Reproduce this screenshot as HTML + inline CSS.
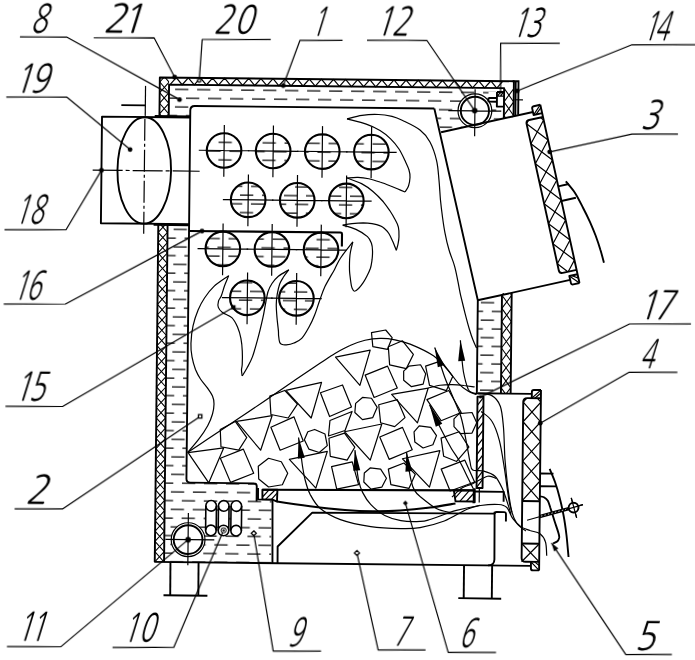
<!DOCTYPE html>
<html><head><meta charset="utf-8"><title>Fig</title>
<style>
html,body{margin:0;padding:0;background:#fff}
svg{display:block}
.k{fill:none;stroke:#000;stroke-width:1.9;stroke-linejoin:round;stroke-linecap:butt}

.kk{fill:none;stroke:#000;stroke-width:2.1;stroke-linejoin:round}
.t{fill:none;stroke:#000;stroke-width:1.2;stroke-linejoin:round}
.h{fill:none;stroke:#000;stroke-width:1.05;stroke-linejoin:round}
.tw{fill:#fff;stroke:#000;stroke-width:1.3}
.a{fill:#000;stroke:none}
.n{font-family:"NanumGothic","Liberation Sans",sans-serif;font-size:39.5px;fill:#000;stroke:none}
#water-fill *{fill:url(#water);stroke:none}
#whites *{fill:#fff;stroke:none}
</style></head><body>
<svg width="695" height="660" viewBox="0 0 695 660">
<defs>
<pattern id="water" patternUnits="userSpaceOnUse" width="22" height="17.5" patternTransform="translate(194.6 89.15)">
<path d="M0 2 H13.3 M11 10.75 H22 M0 10.75 H2.3" stroke="#000" stroke-width="1.15" fill="none"/>
</pattern>
</defs>
<rect width="695" height="660" fill="#fff"/>
<g transform="rotate(0.6 347.5 330)">
<g id="water-fill">
<polygon points="166.5,86.5 501.6,86.5 501.6,115.8 439,130.2 432,107.6 188,107.6 188,119.2 166.5,119.2"/>
<polygon points="166.5,225.8 188,225.8 188,484.3 258.4,484.3 258.4,500.5 273.5,500.7 273.5,563.9 166.5,563.9"/>
<polygon points="477.5,298.9 501.6,293.5 501.6,391.8 477.5,391.8"/>
<circle cx="222.2" cy="151.8" r="17.3"/>
<circle cx="271.3" cy="151.8" r="17.3"/>
<circle cx="320.4" cy="151.8" r="17.3"/>
<circle cx="369.5" cy="151.8" r="17.3"/>
<circle cx="246.8" cy="200.9" r="17.3"/>
<circle cx="295.9" cy="200.9" r="17.3"/>
<circle cx="345" cy="200.9" r="17.3"/>
<circle cx="222" cy="250.2" r="17.3"/>
<circle cx="271.1" cy="250.2" r="17.3"/>
<circle cx="320.2" cy="250.2" r="17.3"/>
<circle cx="247" cy="298.9" r="17.3"/>
<circle cx="296.1" cy="298.9" r="17.3"/>
</g>
<g id="whites">
<circle cx="472.6" cy="109.5" r="16.9"/>
<circle cx="190.3" cy="541.3" r="16.9"/>
<rect x="207.7" y="501.9" width="10.6" height="35.2" rx="5.3"/>
<rect x="220.3" y="501.9" width="10.6" height="35.2" rx="5.3"/>
<rect x="232.9" y="501.9" width="10.6" height="35.2" rx="5.3"/>
<rect x="486" y="90.4" width="15.5" height="14.6"/>
</g>
<g id="casing">
<path class="k" d="M157.2 117.7 V79.5 H511.3 V114.5"/>
<path class="k" d="M157.2 226.8 V563.9"/>
<path class="k" d="M166.5 117.7 V86.5 H501.6 V116.5"/>
<path class="k" d="M166.5 226.8 V563.9"/>
<path class="k" d="M156.7 563.9 H533.4"/>
<clipPath id="hc1"><rect x="157.2" y="79.5" width="9.3" height="38.2"/></clipPath><g clip-path="url(#hc1)"><polyline class="h" points="157.2,73.4 166.5,84 157.2,94.6 166.5,105.2 157.2,115.8 166.5,126.4"/><polyline class="h" points="166.5,73.4 157.2,84 166.5,94.6 157.2,105.2 166.5,115.8 157.2,126.4"/></g>
<clipPath id="hc2"><rect x="157.2" y="226.8" width="9.3" height="337.1"/></clipPath><g clip-path="url(#hc2)"><polyline class="h" points="157.2,224 166.5,234.3 157.2,244.6 166.5,254.9 157.2,265.2 166.5,275.5 157.2,285.8 166.5,296.1 157.2,306.4 166.5,316.8 157.2,327.1 166.5,337.4 157.2,347.7 166.5,358 157.2,368.3 166.5,378.6 157.2,388.9 166.5,399.2 157.2,409.5 166.5,419.8 157.2,430.1 166.5,440.4 157.2,450.7 166.5,461 157.2,471.3 166.5,481.6 157.2,491.9 166.5,502.2 157.2,512.5 166.5,522.8 157.2,533.1 166.5,543.4 157.2,553.6 166.5,563.9"/><polyline class="h" points="166.5,224 157.2,234.3 166.5,244.6 157.2,254.9 166.5,265.2 157.2,275.5 166.5,285.8 157.2,296.1 166.5,306.4 157.2,316.8 166.5,327.1 157.2,337.4 166.5,347.7 157.2,358 166.5,368.3 157.2,378.6 166.5,388.9 157.2,399.2 166.5,409.5 157.2,419.8 166.5,430.1 157.2,440.4 166.5,450.7 157.2,461 166.5,471.3 157.2,481.6 166.5,491.9 157.2,502.2 166.5,512.5 157.2,522.8 166.5,533.1 157.2,543.4 166.5,553.6 157.2,563.9"/></g>
<polyline class="t" points="167.5,86.5 173.6,79.5 179.6,86.5 185.7,79.5 191.7,86.5 197.8,79.5 203.8,86.5 209.9,79.5 215.9,86.5 222,79.5 228,86.5 234.1,79.5 240.1,86.5 246.2,79.5 252.2,86.5 258.3,79.5 264.3,86.5 270.4,79.5 276.4,86.5 282.5,79.5 288.5,86.5 294.6,79.5 300.6,86.5 306.7,79.5 312.7,86.5 318.8,79.5 324.8,86.5 330.9,79.5 336.9,86.5 343,79.5 349,86.5 355.1,79.5 361.1,86.5 367.2,79.5 373.2,86.5 379.3,79.5 385.3,86.5 391.4,79.5 397.4,86.5 403.5,79.5 409.5,86.5 415.6,79.5 421.6,86.5 427.7,79.5 433.7,86.5 439.8,79.5 445.8,86.5 451.9,79.5 457.9,86.5 464,79.5 470,86.5 476.1,79.5 482.1,86.5 488.2,79.5 494.2,86.5 500.3,79.5"/>
<clipPath id="hc3"><rect x="501.6" y="86.5" width="9.7" height="29"/></clipPath><g clip-path="url(#hc3)"><polyline class="h" points="501.6,73.2 511.3,86.8 501.6,100.2 511.3,113.8 501.6,127.2"/><polyline class="h" points="511.3,73.2 501.6,86.8 511.3,100.2 501.6,113.8 511.3,127.2"/></g>
<path class="k" d="M501.6 293 V391.8 M511.3 291 V391.8"/>
<clipPath id="hc4"><rect x="501.6" y="291.5" width="9.7" height="100.3"/></clipPath><g clip-path="url(#hc4)"><polyline class="h" points="501.6,280.4 511.3,293.6 501.6,306.8 511.3,320 501.6,333.2 511.3,346.4 501.6,359.6 511.3,372.8 501.6,386 511.3,399.2"/><polyline class="h" points="511.3,280.4 501.6,293.6 511.3,306.8 501.6,320 511.3,333.2 501.6,346.4 511.3,359.6 501.6,372.8 511.3,386 501.6,399.2"/></g>
<path class="k" d="M513.1 79.5 V113.8 M515.9 79.5 V113 M510 79.5 H516.8"/>
</g>
<g id="pipe">
<path class="k" d="M188 119.2 H99.8 V225.8 H188"/>
<path class="kk" d="M152.5 118.2 H188 M152.5 226.8 H188"/>
<ellipse class="k" cx="142.6" cy="172.6" rx="26.8" ry="53.2"/>
<path class="t" d="M143 88 V118" />
<path class="t" stroke-dasharray="22 3 3 3" d="M142.7 121 V236" />
<path class="k" d="M119 107.5 H143"/>
<path class="t" stroke-dasharray="30 3 4 3" d="M91 172.8 H198"/>
</g>
<g id="firebox">
<path class="k" d="M432 107.6 H192.5 Q188 107.6 188 112.1 V119.2 M188 119.2 V480.3 Q188 484.3 192 484.3 H255.4 Q258.4 484.3 258.4 487.3 V502.5"/>
<path class="k" d="M432 107.6 L477.5 298.9 V391.8"/>
<path class="kk" d="M188 232.6 H339.5 Q341 232.6 341 234 V246.5"/>
</g>
<g id="door3" transform="translate(530.2 110.2) rotate(-13)">
<path class="k" d="M0.5 0 H-93.6 M-94 172 H0.8"/>
<path class="k" d="M9.2 -5.5 V177 M9.2 7 H-5 Q-8.3 7 -8.3 10.5 V160 Q-8.3 163.5 -5 163.5 H9.2"/>
<path class="k" d="M9.2 -5.5 H2.5 Q0.5 -5.5 0.5 -3.5 V3 H9.2 M9.2 177 H2.8 Q0.8 177 0.8 175 V168 H9.2"/>
<path class="t" d="M9.2 -5.5 L0.5 3 M3 3 L9.2 -2.5 M0.8 168 L9.2 177 M9.2 172 L3 168"/>
<clipPath id="cd3"><rect x="-8.3" y="7" width="17.5" height="156.5" rx="3"/></clipPath>
<g clip-path="url(#cd3)"><polyline class="t" points="-8.3,-31 9.2,-10.5 -8.3,10 9.2,30.5 -8.3,51 9.2,71.5 -8.3,92 9.2,112.5 -8.3,133 9.2,153.5 -8.3,174"/><polyline class="t" points="9.2,-31 -8.3,-10.5 9.2,10 -8.3,30.5 9.2,51 -8.3,71.5 9.2,92 -8.3,112.5 9.2,133 -8.3,153.5 9.2,174"/></g>
<path class="k" d="M9.2 78 H20 M9.2 93 H24"/>
</g>
<path class="k" d="M564.2 179.1 C565.8 181 570.6 186.3 573.6 190.6 C576.5 195 579.2 200.5 581.7 205.3 C584.3 210.1 586.7 214.9 588.9 219.5 C591 224.1 592.8 228.3 594.6 232.9 C596.4 237.6 598.2 242.8 599.6 247.4 C601.1 251.9 602.6 257.9 603.2 260"/>
<g id="door4">
<path class="k" d="M478.5 391.9 H532.5"/>
<path class="k" d="M541.6 388 V568.4 M541.6 396.2 H528 Q524 396.2 524 400 V556 Q524 559.9 528 559.9 H541.6"/>
<path class="k" d="M541.6 388 H534.5 Q532.5 388 532.5 390 V396.2 M541.6 568.4 H535.4 Q533.4 568.4 533.4 566.4 V559.9"/>
<path class="t" d="M541.6 388 L532.5 396.2 M535.5 396.2 L541.6 391 M533.4 559.9 L541.6 568.4 M541.6 563.5 L537 559.9"/>
<path class="k" d="M524 499.2 H541.6 M524 541.7 H541.6"/>
<clipPath id="cd4"><rect x="524" y="396.2" width="17.6" height="103"/></clipPath>
<g clip-path="url(#cd4)"><polyline class="t" points="524,360.8 541.6,380.5 524,400.2 541.6,419.9 524,439.6 541.6,459.3 524,479 541.6,498.7 524,518.4"/><polyline class="t" points="541.6,360.8 524,380.5 541.6,400.2 524,419.9 541.6,439.6 524,459.3 541.6,479 524,498.7 541.6,518.4"/></g>
<path class="t" d="M524 541.7 L541.6 559.9 M541.6 541.7 L524 559.9"/>
<path class="k" d="M541.6 471.5 H555 M541.6 484.2 H558"/>
<path class="k" d="M551.1 466.7 C552 468.9 554.9 475.1 556.6 479.8 C558.3 484.5 559.8 489.3 561.2 494.8 C562.7 500.3 564.2 506.4 565.4 512.7 C566.7 519 567.7 525.7 568.6 532.7 C569.5 539.7 570.5 551 570.9 554.7"/>
<path class="k" d="M541.2 494.3 C542 494.4 544.4 494.5 545.7 495.2 C547.1 496 548.5 497 549.6 498.7 C550.6 500.4 551 502 552.1 505.4 C553.3 508.7 555.1 514.7 556.5 518.8 C557.9 523 559.6 527.6 560.4 530.3 C561.2 533 561.5 533.7 561.4 535.2 C561.2 536.6 560.7 538 559.7 539 C558.7 540 556.1 540.9 555.3 541.2"/>
<polyline class="t" points="529,518.4 584.8,502.1"/>
<polyline class="t" points="573,495.6 578.6,515.4"/>
<polyline points="541.4,514.6 570.8,506.3" style="fill:none;stroke:#000;stroke-width:3.6"/>
<polyline points="542.9,514.1 569.9,506.5" style="fill:none;stroke:#fff;stroke-width:0.8;stroke-dasharray:1.4 2.2"/>
<circle class="k" style="fill:#fff" cx="575.4" cy="505.2" r="4.9"/>
<polyline class="t" points="567.9,507.3 584.8,502.1"/>
<polyline class="t" points="573,495.6 578.6,515.4"/>
</g>
<g id="door17">
<rect class="k" x="478.2" y="395.3" width="6" height="91.3"/>
<path class="t" d="M478.2 404 L484.2 396 M478.2 412.2 L484.2 404.2 M478.2 420.4 L484.2 412.4 M478.2 428.6 L484.2 420.6 M478.2 436.8 L484.2 428.8 M478.2 445 L484.2 437 M478.2 453.2 L484.2 445.2 M478.2 461.4 L484.2 453.4 M478.2 469.6 L484.2 461.6 M478.2 477.8 L484.2 469.8 M478.2 486 L484.2 478 "/>
</g>
<g id="grate">
<polyline class="k" points="259.7,488.9 259.8,500.3 274.3,500.4 274.9,564"/>
<polyline class="kk" points="264.1,490.6 475.4,489"/>
<polygon class="k" points="264.1,490.6 279.1,490.5 278.8,502.3 274.3,500.4 264.2,500.3"/>
<path class="t" d="M264.7,497.4 L270.7,490.7 M267.3,500.2 L276.7,490.7 M273.3,500.2 L279,493.7"/>
<polygon class="k" points="455.5,489.1 475.4,489 475.5,500.1 457.3,500.1"/>
<path class="t" d="M456.8,496.9 L463.7,489.1 M461.8,500 L471.2,489 M468.3,500 L475.3,492.2"/>
<path class="kk" d="M278.8 502.3 C284.3 503.1 300.5 505.4 311.8 506.7 C323.2 508 336.4 509.3 346.9 510 C357.4 510.8 365.7 511.1 374.9 511.1 C384.1 511.1 392.4 510.8 401.9 510 C411.4 509.3 422.6 508 431.9 506.7 C441.1 505.4 453.1 503.1 457.3 502.4"/>
<polyline class="k" points="476.4,487 476.5,500.9 474.3,500.9"/>
<polyline class="k" points="476.4,490.2 505.4,490.2 505.4,500"/>
<polyline class="t" points="481,486.9 481,501.2"/>
<polyline class="k" points="280,563.9 279.9,547.2 314.2,513 496.5,512.1"/>
<path class="k" d="M496.5,510.2 L496.8,557.9 Q496.8,563.7 490.5,563.9"/>
<path class="k" d="M496.5,512.4 L496.5,512.4 Q496.6,510.4 498.6,510.4 L505.9,510.5 Q507.9,510.4 507.9,512.5 L507.9,519.8"/>
</g>
<g id="legs">
<polyline class="k" points="172.9,563.8 173,597.1"/>
<polyline class="k" points="201,563.8 201.1,597.1"/>
<polyline class="k" points="166.3,597.1 210.2,597.2"/>
<polyline class="k" points="466.5,564.1 466.5,597.1"/>
<polyline class="k" points="494.6,564.1 494.6,597.1"/>
<polyline class="k" points="461.1,597 504,597.1"/>
</g>
<g id="tubes">
<circle class="kk" cx="222.2" cy="151.8" r="17.3"/>
<path class="t" d="M196.9 151.8 H247.5 M222.2 126.4 V178.1"/>
<circle class="kk" cx="271.3" cy="151.8" r="17.3"/>
<path class="t" d="M246 151.8 H296.6 M271.3 126.4 V178.1"/>
<circle class="kk" cx="320.4" cy="151.8" r="17.3"/>
<path class="t" d="M295.1 151.8 H345.7 M320.4 126.4 V178.1"/>
<circle class="kk" cx="369.5" cy="151.8" r="17.3"/>
<path class="t" d="M344.2 151.8 H394.8 M369.5 126.4 V178.1"/>
<circle class="kk" cx="246.8" cy="200.9" r="17.3"/>
<path class="t" d="M221.5 200.9 H272.1 M246.8 175.6 V227.2"/>
<circle class="kk" cx="295.9" cy="200.9" r="17.3"/>
<path class="t" d="M270.6 200.9 H321.2 M295.9 175.6 V227.2"/>
<circle class="kk" cx="345" cy="200.9" r="17.3"/>
<path class="t" d="M319.7 200.9 H370.3 M345 175.6 V227.2"/>
<circle class="kk" cx="222" cy="250.2" r="17.3"/>
<path class="t" d="M196.7 250.2 H247.3 M222 224.9 V276.5"/>
<circle class="kk" cx="271.1" cy="250.2" r="17.3"/>
<path class="t" d="M245.8 250.2 H296.4 M271.1 224.9 V276.5"/>
<circle class="kk" cx="320.2" cy="250.2" r="17.3"/>
<path class="t" d="M294.9 250.2 H345.5 M320.2 224.9 V276.5"/>
<circle class="kk" cx="247" cy="298.9" r="17.3"/>
<path class="t" d="M221.7 298.9 H272.3 M247 273.6 V325.2"/>
<circle class="kk" cx="296.1" cy="298.9" r="17.3"/>
<path class="t" d="M270.8 298.9 H321.4 M296.1 273.6 V325.2"/>
</g>
<g id="c12">
<circle class="k" cx="472.6" cy="109.5" r="14.1"/><circle class="t" cx="472.6" cy="109.5" r="16.9"/>
<path class="t" d="M472.6 88 V135 M446 109.5 H499"/>
</g>
<g id="c11">
<circle class="k" cx="190.3" cy="541.3" r="14.4"/><circle class="t" cx="190.3" cy="541.3" r="16.9"/>
<path class="t" d="M190.3 514.6 V567 M167.6 541.3 H216.5"/>
</g>
<g id="p13">
<path class="k" d="M494.5 90.4 H501.5 M494.5 90.4 V105 H501.5 M486 96.4 H494.5 M486 100.2 H494.5 M486 96.4 V100.2"/>
<path class="t" d="M494.5 94.5 H501.5 M495 94.5 L498 90.6 M498 94.5 L501 90.6"/>
<path class="t" d="M512 98 H520.5"/>
</g>
<g id="heaters">
<path class="k" style="stroke-width:1.6" d="M207.7 507.2 V531.8 M218.3 507.2 V531.8"/>
<circle class="k" style="stroke-width:1.6" cx="213" cy="507.2" r="5.3"/><circle class="k" style="stroke-width:1.6" cx="213" cy="531.8" r="5.3"/>
<path class="k" style="stroke-width:1.6" d="M220.3 507.2 V531.8 M230.9 507.2 V531.8"/>
<circle class="k" style="stroke-width:1.6" cx="225.6" cy="507.2" r="5.3"/><circle class="k" style="stroke-width:1.6" cx="225.6" cy="531.8" r="5.3"/>
<path class="k" style="stroke-width:1.6" d="M232.9 507.2 V531.8 M243.5 507.2 V531.8"/>
<circle class="k" style="stroke-width:1.6" cx="238.2" cy="507.2" r="5.3"/><circle class="k" style="stroke-width:1.6" cx="238.2" cy="531.8" r="5.3"/>
</g>
<g id="flames">
<path class="t" d="M344.8 118.9 C347.3 118.3 354.5 115.9 359.8 115.2 C365 114.4 371.2 114 376.2 114.2 C381.2 114.3 385.7 115.1 389.8 116 C393.8 117 395.8 117.8 400.5 120 C405.2 122.2 413.3 125.7 417.9 129.3 C422.5 132.8 425.2 136.1 428 141.1 C430.8 146.2 433.3 153.4 434.8 159.7 C436.4 166 436.7 172.5 437.4 179.1 C438.1 185.6 438.5 192.9 439.1 199 C439.8 205.2 440.5 210.5 441.3 216 C442.1 221.5 442.8 226.5 444 232 C445.1 237.5 446.5 243.5 448.2 248.9 C449.8 254.4 452.3 259.4 453.8 264.7 C455.4 270 456.4 275.8 457.5 280.8 C458.6 285.9 459.2 289.7 460.4 294.8 C461.7 300 463.3 306.1 464.8 311.8 C466.3 317.4 468.2 324.2 469.6 328.7 C471 333.2 471.9 335.7 473.1 338.7 C474.3 341.7 476.1 345.3 476.7 346.6"/>
<path class="t" d="M344.8 118.9 C348 119.8 358.6 122.1 364.1 124 C369.7 125.9 373.8 127.8 377.9 130.2 C382 132.6 385.4 135.3 388.6 138.4 C391.8 141.4 394.7 144.9 397.1 148.5 C399.5 152.1 401.5 156.5 403.2 160 C404.9 163.5 406.5 166.6 407.3 169.4 C408.2 172.2 408.5 174.2 408.4 176.9 C408.3 179.5 407.8 182.9 407 185.4 C406.2 187.8 404.1 190.4 403.6 191.4"/>
<path class="t" d="M403.6 191.4 C402.4 190.9 398.9 189.5 396.5 188.5 C394.1 187.5 392.1 186.7 389.1 185.6 C386.1 184.4 382.1 182.8 378.4 181.7 C374.8 180.5 370.9 179.2 367.2 178.5 C363.5 177.8 360 177.4 356.4 177.3 C352.8 177.2 347.2 177.9 345.4 178"/>
<path class="t" d="M345.4 178 C347.8 178.9 355.6 181.3 360 183.5 C364.3 185.7 367.9 188.2 371.5 191.2 C375.2 194.2 379.1 198.2 382 201.4 C384.8 204.7 386.8 207.7 388.8 210.6 C390.7 213.4 392.2 215.9 393.6 218.5 C395.1 221.2 396.6 223.5 397.3 226.5 C398 229.4 398.1 233.2 398 236.1 C398 238.9 397.5 241.2 397.1 243.5 C396.7 245.8 395.7 248.7 395.5 249.8"/>
<path class="t" d="M395.5 249.8 C394.9 248.4 393.3 244.3 392.1 241.5 C390.8 238.8 389.3 235.4 388 233.3 C386.6 231.1 385.4 229.9 383.9 228.6 C382.5 227.3 381.5 226.3 379.3 225.5 C377.1 224.6 373.8 223.8 370.9 223.3 C368 222.9 365.4 222.7 362.1 222.7 C358.7 222.8 354.3 223.2 350.9 223.6 C347.5 224 343.1 224.9 341.6 225.2"/>
<path class="t" d="M341.6 225.2 C343.8 225.8 350.8 227.4 354.9 229.3 C359.1 231.2 363.9 234.1 366.5 236.4 C369.1 238.7 369.7 240.9 370.6 243.3 C371.5 245.6 371.6 248 371.7 250.7 C371.8 253.5 371.6 256.9 371.3 259.7 C370.9 262.6 370.6 265.3 369.8 268 C368.9 270.6 367.6 273.4 366.4 275.8 C365.3 278.2 364.1 280.3 362.7 282.4 C361.3 284.5 359.5 286.9 358.1 288.4 C356.6 289.9 355.2 291.3 354.1 291.2 C353 291.2 352.2 289.4 351.6 288 C350.9 286.5 350.8 285.2 350.4 282.6 C350 279.9 349.3 275.3 349 272 C348.7 268.6 348.8 265.3 348.8 262.5 C348.8 259.6 349 257.1 349.2 255 C349.4 252.8 349.6 251.6 350.1 249.5 C350.5 247.3 351.6 243.2 351.9 241.9"/>
<path class="t" d="M351.9 241.9 C349.9 244.6 342.9 253.4 339.8 258.1 C336.8 262.7 336.3 265 333.8 269.8 C331.2 274.6 327 281.6 324.5 286.8 C322.1 292.1 320.9 296.5 319.2 301.3 C317.5 306 316.3 310.8 314.5 315.3 C312.8 319.9 310.6 324.5 308.5 328.4 C306.4 332.3 304.2 336.4 301.8 338.9 C299.4 341.4 296.7 342.4 294.1 343.6 C291.6 344.7 288.4 345.3 286.4 345.5 C284.3 345.8 282.7 345.4 281.7 345 C280.6 344.6 280.3 344.4 279.8 343 C279.3 341.6 278.9 338.7 278.7 336.7 C278.4 334.8 278.7 334.3 278.4 331.3 C278.1 328.3 277.3 323.1 276.9 318.7 C276.5 314.4 276 309.4 276 305.4 C276 301.4 276.4 298.2 276.9 294.7 C277.5 291.3 278.2 287.6 279.2 284.7 C280.2 281.9 281.5 280.1 282.9 277.7 C284.4 275.3 287.3 271.6 288.2 270.4"/>
<path class="t" d="M288.2 270.4 C286.5 271.5 280.6 274.7 277.8 277 C275.1 279.3 273.2 281.7 271.5 284.3 C269.8 286.9 268.7 289.2 267.6 292.6 C266.6 296.1 266 300.5 265.2 304.9 C264.4 309.2 264 312.9 262.8 318.6 C261.6 324.3 259.8 332.4 258.1 338.9 C256.4 345.4 254.6 352.6 252.8 357.6 C251 362.6 249.1 365.8 247.4 369.1 C245.7 372.3 243.5 375.8 242.7 377.1"/>
<path class="t" d="M242.7 377.1 C242.6 376.1 241.9 373.1 241.9 371.1 C241.9 369.2 242.5 368.6 242.6 365.4 C242.7 362.2 242.8 356.4 242.5 352.1 C242.3 347.8 241.8 343.5 241 339.5 C240.2 335.5 239 331.6 237.5 328.2 C235.9 324.7 234.2 321.3 231.7 318.9 C229.2 316.5 224.6 315.5 222.3 313.8 C220.1 312.1 218.8 310.6 218.1 308.7 C217.4 306.7 217.7 304.3 218.2 302.4 C218.7 300.4 220.1 299.5 221 297 C222 294.5 222.9 290.6 224 287.3 C225.2 283.9 227.5 278.7 228.1 276.9"/>
<path class="t" d="M228.1 276.9 C225.7 278.8 217.2 284.2 213.3 288 C209.3 291.8 206.7 295.6 204.2 299.5 C201.6 303.4 199.8 306.9 197.9 311.6 C196 316.3 194.1 322 193 327.6 C191.8 333.2 191.2 340.1 191.1 345.2 C190.9 350.4 191.5 354.3 192.3 358.6 C193.1 362.9 194.5 367.4 195.9 371.1 C197.4 374.7 199 377.5 201 380.5 C203 383.5 205.8 386.3 207.8 389.1 C209.8 391.9 212 394.7 213.2 397.4 C214.4 400.1 214.8 402.4 214.8 405.4 C214.8 408.4 214.4 411.8 213.4 415.4 C212.4 419 210.9 423 208.7 427.2 C206.5 431.3 203.5 436 200.1 440.5 C196.8 445.1 190.8 451.9 188.9 454.2"/>
</g>
<g id="fuel">
<path class="t" d="M189.1 454 C197.7 448.1 223.2 431 240.9 418.7 C258.7 406.5 282.4 389.8 295.6 380.5 C308.9 371.3 313.7 368 320.3 363.5 C327 359 330.3 356.6 335.2 353.6 C340.2 350.6 345.2 347.7 350.2 345.5 C355.1 343.2 360.1 341.4 365.1 340.1 C370.1 338.9 375.1 338.2 380.1 338.1 C385.1 337.9 390.1 338.4 395.1 339.3 C400.1 340.2 403.9 340.9 410.3 343.5 C416.8 346.1 427.5 350.8 433.7 354.9 C439.8 359 443.1 363.3 447.4 368 C451.7 372.6 456.1 379.3 459.7 382.9 C463.2 386.6 465.7 388 468.6 389.7 C471.6 391.5 475.7 392.7 477.2 393.2"/>
<polygon class="t" points="189.4,454.2 224.9,449.2 210.4,484.3"/>
<polygon class="t" points="221.7,459.6 244.6,450.2 255.2,474.2 232.2,483.6"/>
<polygon class="t" points="221.3,430.8 236.2,422.6 247.9,438.6 240,451.3 222.2,448.1"/>
<polygon class="t" points="237.4,422.6 273,416.5 261.9,451.1"/>
<polygon class="t" points="270.5,396.9 285.3,391.1 298.2,404.7 289.1,418.6 271.8,415.3"/>
<polygon class="t" points="271.9,428 294.9,417.4 304.4,441.5 281.4,450.9"/>
<polygon class="t" points="286.5,391 322.1,382.6 312.1,418.4"/>
<polygon class="t" points="269.9,459.1 282.7,462.4 289.2,473.8 284,485.4 270.2,487.8 260.3,479.9 259.7,467.2"/>
<polygon class="t" points="315.7,429.8 326.1,434.3 328.5,445.8 320.6,452.8 310.1,449.5 305.5,440.3 308.9,432.2"/>
<polygon class="t" points="290.7,460 328.6,451.6 317.5,488.5"/>
<polygon class="t" points="321.1,393 343.1,385 352.3,407 330.5,416.7"/>
<polygon class="t" points="371.5,332.3 385.7,329.6 392.2,337.2 387.7,348.9 373,346.4"/>
<polygon class="t" points="388.5,346.3 402.6,340.2 413.6,353.8 406.7,368 390,364.4"/>
<polygon class="t" points="335.8,357.2 370.4,349.9 360.5,385.3"/>
<polygon class="t" points="365.6,374.9 387.9,365.7 397.9,387.5 374.8,397.2"/>
<polygon class="t" points="409.3,365.5 420.9,364 426.1,373 423.7,383.3 412.1,386 404.2,379.6 404.1,370.6"/>
<polygon class="t" points="426,365.3 441.4,359.9 453.2,375.3 446.9,389.6 430.1,384.5"/>
<polygon class="t" points="363.2,397.3 372.2,398 378,407 373.7,417.3 363.4,419.5 355.7,412.4 356.4,403.3"/>
<polygon class="t" points="392.3,393.9 428.8,387.2 418.4,422.1"/>
<polygon class="t" points="379.5,404.4 398,399.1 405.9,417 395.7,426.1 381.6,422.4"/>
<polygon class="t" points="427.6,398.8 449.4,389.5 462.1,411.3 442,419.7"/>
<polygon class="t" points="460,412.5 472.9,411.2 477.7,421.4 473.1,431.8 461.5,432.4 455,425.5 454.9,417.8"/>
<polygon class="t" points="420.2,425.1 431.8,426.5 437.6,434.7 434.1,443.8 424.3,447.2 416,441.4 415.1,431.1"/>
<polygon class="t" points="345.6,431.8 382.8,423.6 371.6,459.9"/>
<polygon class="t" points="380.9,436.6 403.5,426.8 413.5,449.1 390.5,458.9"/>
<polygon class="t" points="330.1,438.4 345.6,433.1 356,447.1 348.5,460.1 331.6,456.5"/>
<polygon class="t" points="442.2,437.2 460.2,430.6 470.1,445.9 458,460.3 445,455.3"/>
<polygon class="t" points="403.8,458.2 441.1,449.6 431.1,486.3"/>
<polygon class="t" points="333,466.8 353.6,461.8 360.2,484.5 338.4,489.3"/>
<polygon class="t" points="371.6,467.7 382.1,468.7 388,477.8 383.4,486.8 372.7,488.9 365.4,481.8 365.8,472.8"/>
<polygon class="t" points="389.8,468.7 405.4,462.4 416.8,473.6 410.6,487.8 392.5,484.1"/>
<polygon class="t" points="442.6,468.1 466.2,458.9 476.2,480.7 451.8,489.9"/>
<polygon class="t" points="330.9,420.7 352.9,411.4 346.1,430.5 329.6,436.2"/>
<path class="t" d="M428.8 387.2 C430.8 386.7 436.6 384.9 440.6 384.3 C444.5 383.7 448.6 383.5 452.6 383.5 C456.6 383.5 460.8 383.9 464.6 384.3 C468.3 384.6 473.4 385.4 475.2 385.6"/>
</g>
<g id="arrows">
<polygon class="a" points="299.7,438 299.2,459.3 306.1,458.3"/><path class="t" d="M299.7 438 L302.6 458.8"/>
<path class="t" d="M301.8 450.5 C302.1 453.1 303.1 461.4 303.9 466.5 C304.8 471.5 305.4 476 306.8 480.7 C308.1 485.5 309.4 490.1 311.9 494.8 C314.5 499.5 317.1 504.6 322.2 508.8 C327.2 512.9 334 516.7 342.4 519.7 C350.8 522.6 362.7 525 372.8 526.3 C382.9 527.7 394.8 527.9 403 528 C411.2 528.1 414.8 528.2 422.1 526.8 C429.3 525.5 438.6 523.1 446.3 520 C454 516.9 462.5 510.9 468.4 508.2 C474.3 505.6 479.6 504.6 481.8 503.9"/>
<polygon class="a" points="356.2,450 354.7,470.6 361.7,470"/><path class="t" d="M356.2 450 L358.2 470.3"/>
<path class="t" d="M357.4 461.9 C357.8 464.9 359 475.1 360.2 480.2 C361.3 485.2 362.2 488.2 364.3 492.2 C366.4 496.2 368.8 500.4 372.5 504.2 C376.3 508.1 381.7 512.5 386.7 515.1 C391.8 517.7 397 519.1 402.9 520 C408.8 521 417.2 520.9 422 520.6 C426.8 520.4 425.9 520.5 432 518.6 C438 516.7 449.9 511.8 458.3 509.3 C466.7 506.9 475.4 505.2 482.4 504.1 C489.5 503 496.1 502.6 500.5 502.9 C504.9 503.2 506.3 503.5 508.7 505.8 C511 508.1 512.4 513.7 514.8 516.9 C517.1 520 520.1 522.8 522.9 524.8 C525.8 526.7 528.9 527.4 532.1 528.6 C535.3 529.7 539.5 529.8 542.1 531.7 C544.7 533.6 546.6 536.2 547.7 539.9 C548.9 543.6 548.8 551.4 549.1 553.7"/>
<polygon class="a" points="407.8,451.5 406.9,471.2 413.8,470.3"/><path class="t" d="M407.8 451.5 L410.4 470.7"/>
<path class="t" d="M409.4 462.4 C409.9 465.2 411.4 475.1 412.6 479.6 C413.7 484.2 414.6 487 416.2 489.7 C417.7 492.4 418.1 492.7 421.7 495.6 C425.4 498.6 433.1 504.9 438.2 507.6 C443.3 510.2 449.9 510.8 452.3 511.4"/>
<polygon class="a" points="434.9,346.6 438.2,366.3 444.8,363.9"/><path class="t" d="M434.9 346.6 L441.5 365.1"/>
<path class="t" d="M438.3 356.1 C439.5 359.5 442.8 369.9 445.5 377 C448.2 384 452 392 454.7 398.5 C457.5 405 459.8 409.1 461.9 415.8 C464 422.5 465.6 431.3 467.1 438.8 C468.7 446.2 470.2 455.7 471.4 460.7 C472.5 465.7 471.9 467.2 474.2 468.7 C476.4 470.2 481.1 468.6 484.9 469.6 C488.6 470.6 493.3 471.8 496.5 474.7 C499.7 477.7 502 482.8 504.2 487.4 C506.3 491.9 508.2 498 509.6 502.2 C511.1 506.4 512.4 511 512.9 512.8"/>
<polygon class="a" points="460.5,339.1 458.5,360 465.5,359.4"/><path class="t" d="M460.5 339.1 L462 359.7"/>
<path class="t" d="M461.2 348.8 C461.7 352.5 462.7 364.2 463.9 370.8 C465.2 377.3 467.4 384.6 468.8 388 C470.3 391.4 471 390.5 472.6 391.2 C474.3 391.9 475.4 391.8 478.7 392.3 C482 392.8 488.7 392 492.5 394.1 C496.2 396.1 499.1 399.3 501.1 404.6 C503.1 409.9 503.6 417 504.5 425.9 C505.4 434.7 505.5 447.7 506.3 457.6 C507.2 467.6 508.2 476.5 509.4 485.3 C510.7 494.2 512.3 504.5 513.9 510.7 C515.5 516.8 517 519.1 519.3 522.2 C521.7 525.3 526.6 528 528.1 529.1"/>
<polygon class="a" points="430.3,403.8 436.8,425.8 443.2,422.8"/><path class="t" d="M430.3 403.8 L440 424.3"/>
<path class="t" d="M434.9 414.1 C436.4 417.1 441.1 426.4 444.1 432 C447 437.5 449.8 442.6 452.6 447.4 C455.5 452.2 458.6 455.9 461.4 460.8 C464.2 465.7 467.2 472.1 469.5 476.7 C471.9 481.4 474.6 486.7 475.7 488.7"/>
<path class="t" d="M482 410.1 C483.8 411.7 489.7 414.7 492.7 419.5 C495.8 424.2 498.2 430.5 500.4 438.6 C502.7 446.7 504.4 458.5 506.1 468.3 C507.7 478.2 509.3 490.8 510.6 497.9 C511.9 505 513.3 508.5 513.9 510.7"/>
<path class="t" d="M453.7 495.9 C455.4 494.4 460.2 489 463.6 486.8 C467.1 484.5 470.1 484.4 474.3 482.4 C478.5 480.4 485.2 475.7 489.1 474.8 C493 473.9 496.2 476.5 497.6 476.8"/>
</g>
<g id="labels" style="filter:grayscale(1)">
<polyline class="t" points="16.9,40.4 63.6,40 177.1,101.4"/>
<circle class="a" cx="177.1" cy="101.4" r="2.4"/>
<text class="n" x="0" transform="translate(26.9 35.6) skewX(-16.5) scale(0.685 1)">8</text>
<polyline class="t" points="90.7,40.5 151,39.8 172,79"/>
<circle class="a" cx="172" cy="79" r="2.4"/>
<text class="n" x="0 18.3" transform="translate(99.9 34.7) skewX(-16.5) scale(0.929 1)">21</text>
<polyline class="t" points="267.7,40.3 199.2,41 196.6,82.1"/>
<circle class="tw" cx="196.6" cy="82.1" r="1.7"/>
<text class="n" x="0 25.7" transform="translate(210.2 34.9) skewX(-16.5) scale(0.787 1)">20</text>
<polyline class="t" points="339.5,40.4 297,40.8 280.7,86.3"/>
<circle class="a" cx="280.7" cy="86.3" r="2.4"/>
<text class="n" x="0" transform="translate(307.3 35.9) skewX(-16.5) scale(0.595 1)">1</text>
<polyline class="t" points="364,40.1 423.8,39.5 472.4,109.3"/>
<circle class="a" cx="472.4" cy="109.3" r="2.8"/>
<text class="n" x="0 22.5" transform="translate(371.6 35.4) skewX(-16.5) scale(0.737 1)">12</text>
<polyline class="t" points="556.8,41.1 497.6,41.7 498.1,92.8"/>
<text class="n" x="0 22.1" transform="translate(508 35) skewX(-16.5) scale(0.640 1)">13</text>
<polyline class="t" points="692,41.2 629,41.8 514.5,89.2"/>
<circle class="a" cx="514.5" cy="89.2" r="2.4"/>
<text class="n" x="0 19.8" transform="translate(639.2 36.6) skewX(-16.5) scale(0.595 1)">14</text>
<polyline class="t" points="675.9,130.7 629.9,131.2 547.8,149.8"/>
<circle class="a" cx="547.8" cy="149.8" r="2.4"/>
<text class="n" x="0" transform="translate(638.3 126.2) skewX(-16.5) scale(0.771 1)">3</text>
<polyline class="t" points="690.9,320.4 629.5,321 481.2,395.6"/>
<circle class="a" cx="481.2" cy="395.6" r="1.5"/>
<text class="n" x="0 19.8" transform="translate(637.2 315.5) skewX(-16.5) scale(0.797 1)">17</text>
<polyline class="t" points="677.8,368.8 629.2,369.4 541.2,421.2"/>
<circle class="a" cx="541.2" cy="421.2" r="2.4"/>
<text class="n" x="0" transform="translate(639.7 364.6) skewX(-16.5) scale(0.595 1)">4</text>
<polyline class="t" points="675.3,651.1 629.2,651.6 553.7,540.8"/>
<polygon class="a" points="553.7,540.8 556.4,549.2 560.7,546.3"/>
<text class="n" x="0" transform="translate(637.2 646.5) skewX(-16.5) scale(0.873 1)">5</text>
<polyline class="t" points="499.4,650.8 451.6,651.3 407.2,502.4"/>
<polygon class="a" points="407.2,499.9 409.7,502.4 407.2,504.9 404.7,502.4"/>
<text class="n" x="0" transform="translate(462 645.9) skewX(-16.5) scale(0.595 1)">6</text>
<polyline class="t" points="428.9,649.2 381.5,649.7 359.3,552.9"/>
<polygon class="tw" points="359.3,550.4 361.8,552.9 359.3,555.4 356.8,552.9"/>
<text class="n" x="0" transform="translate(396.2 645.4) skewX(-16.5) scale(0.595 1)">7</text>
<polyline class="t" points="324.4,651.3 276.6,651.8 255.9,534.3"/>
<polygon class="tw" points="255.9,531.8 258.4,534.3 255.9,536.8 253.4,534.3"/>
<text class="n" x="0" transform="translate(290.7 646.5) skewX(-16.5) scale(0.595 1)">9</text>
<polyline class="t" points="115.9,649.8 177.1,649.2 225.7,531.6"/>
<circle class="tw" style="stroke-width:1" cx="225.7" cy="531.6" r="2.6"/><circle class="a" cx="225.7" cy="531.6" r="1.2"/>
<text class="n" x="0 25.1" transform="translate(125.3 644.4) skewX(-16.5) scale(0.650 1)">10</text>
<polyline class="t" points="10.3,650.1 64.3,649.6 190.3,541.4"/>
<circle class="a" cx="190.3" cy="541.4" r="2.8"/>
<text class="n" x="0 18.8" transform="translate(19.3 644.4) skewX(-16.5) scale(0.680 1)">11</text>
<polyline class="t" points="16.5,512.4 64.4,511.9 201.1,417.9"/>
<rect class="tw" x="199.4" y="416.2" width="3.4" height="3.4"/>
<text class="n" x="0" transform="translate(27 506.7) skewX(-16.5) scale(0.918 1)">2</text>
<polyline class="t" points="6.3,409.9 63.8,409.3 233.2,308.5"/>
<rect class="a" x="231.1" y="306.4" width="4.2" height="4.2"/>
<text class="n" x="0 20.6" transform="translate(14.5 404.2) skewX(-16.5) scale(0.691 1)">15</text>
<polyline class="t" points="3.5,307.6 65.2,307 201,232.6"/>
<circle class="a" cx="201" cy="232.6" r="2.4"/>
<text class="n" x="0 22.5" transform="translate(12.2 302.8) skewX(-16.5) scale(0.595 1)">16</text>
<polyline class="t" points="3.5,233.3 65,232.7 99.8,172.9"/>
<circle class="a" cx="99.8" cy="172.9" r="2.4"/>
<text class="n" x="0 24.5" transform="translate(13 226.8) skewX(-16.5) scale(0.595 1)">18</text>
<polyline class="t" points="3.9,100.6 64.3,100 128.2,151.8"/>
<circle class="a" cx="128.2" cy="151.8" r="2.4"/>
<text class="n" x="0 21.6" transform="translate(10.9 96) skewX(-16.5) scale(0.754 1)">19</text>
</g>
</g>
</svg>
</body></html>
